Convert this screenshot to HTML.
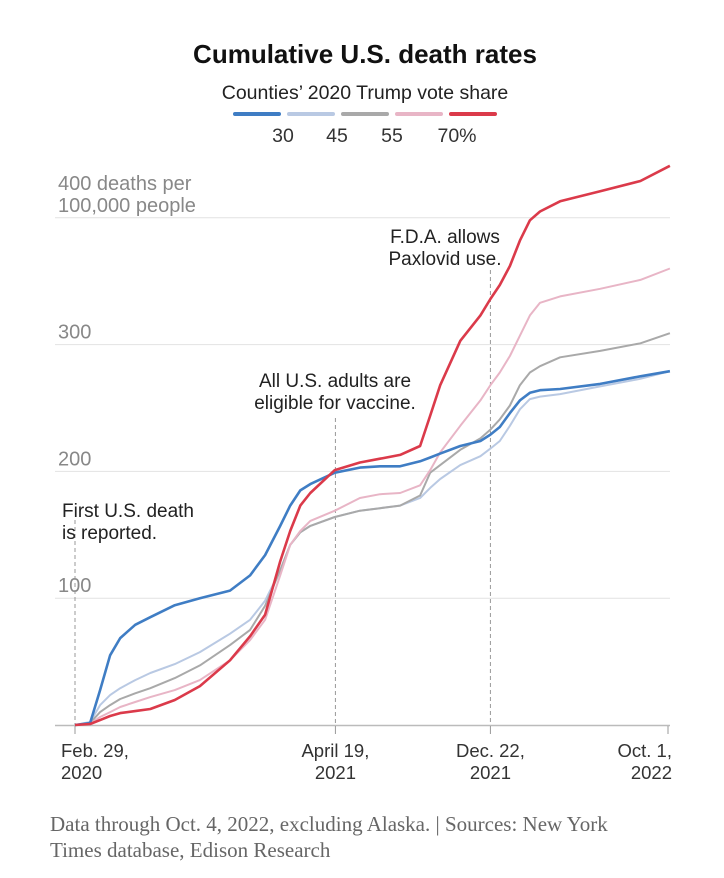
<!DOCTYPE html>
<html><head><meta charset="utf-8"><style>
body{margin:0;background:#fff;width:724px;height:878px;overflow:hidden;font-family:"Liberation Sans",sans-serif}
svg{display:block}
</style></head><body>
<svg id="c" width="724" height="878">
<text x="365" y="63" text-anchor="middle" font-size="26" font-weight="bold" fill="#111">Cumulative U.S. death rates</text>
<text x="365" y="99" text-anchor="middle" font-size="19.5" fill="#222">Counties’ 2020 Trump vote share</text>
<g id="legend"></g>
<g id="grid"></g>
<g id="ann"></g>
<g id="series"></g>
<text x="50" y="831" font-family="Liberation Serif,serif" font-size="21" fill="#666">Data through Oct. 4, 2022, excluding Alaska. | Sources: New York</text>
<text x="50" y="857" font-family="Liberation Serif,serif" font-size="21" fill="#666">Times database, Edison Research</text>
</svg>
<script>
const days=[0,24,40,56,72,96,120,159,199,247,279,303,327,343,359,375,414,454,486,518,550,566,582,614,646,662,677,693,709,725,741,773,837,901,948];
const s30=[0,1.6,27.5,55,68.5,79,85,94.5,100,106,118,134,157,173,185,190,199,203,204,204,208,211,214,220,224,229,235,246,256,262,264,265,269,275,279];
const s45=[0,2.4,15.7,23.6,29,35.4,41,48,57.5,72,83,98,122,142,152,157,164,169,171,173,179,187,194,205,212,218,224,236,249,257,259,261,267,273,279];
const s55=[0,1.6,10.2,15.7,20.5,25,29,37,47,63,75,94,122,142,152,157,164,169,171,173,181,199,205,217,226,233,241,252,268,278,283,290,295,301,309];
const s65=[0,0.8,6.3,10.2,14.2,18.1,22,27.5,35.4,51,67,83,118,142,153,161,169,179,182,183,189,201,215,236,256,268,278,291,307,323,333,338,344,351,360];
const s70=[0,0.8,3.9,7.1,9.4,11,12.6,19.7,30.7,51,70,87,129,153,173,183,201,207,210,213,220,244,268,303,323,336,347,362,382,398,405,413,421,429,441];
const yTicks=[100,200,300,400];
const xTickDays=[0,415,662,945];
const xTickLabels=[["Feb. 29,","2020"],["April 19,","2021"],["Dec. 22,","2021"],["Oct. 1,","2022"]];
const legendLabels=["30","45","55","70%"];
const X=d=>75+d*593/945, Y=v=>725-v*1.268;
const NS="http://www.w3.org/2000/svg";
function mk(tag,attrs,parent,txt){const e=document.createElementNS(NS,tag);for(const k in attrs)e.setAttribute(k,attrs[k]);if(txt!=null)e.textContent=txt;parent.appendChild(e);return e;}
const grid=document.getElementById('grid'),ann=document.getElementById('ann'),ser=document.getElementById('series'),leg=document.getElementById('legend');
yTicks.forEach(v=>{const l=mk('line',{x1:55,x2:670,y1:Y(v),y2:Y(v),stroke:'#e2e2e2','stroke-width':1},grid);


if(v<400){const t=mk('text',{x:58,y:Y(v)-6,'font-size':20,fill:'#888'},grid,String(v));

}
else{const t=mk('text',{x:58,y:Y(v)-28,'font-size':20,fill:'#888'},grid,'400 deaths per');


const t2=mk('text',{x:58,y:Y(v)-6,'font-size':20,fill:'#888'},grid,'100,000 people');

}});
const base=mk('line',{x1:55,x2:670,y1:725.5,y2:725.5,stroke:'#bbb','stroke-width':1.5},grid);


const dtop=[520,418,270];
xTickDays.forEach((d,i)=>{
 const tk=mk('line',{x1:X(d),x2:X(d),y1:726,y2:734,stroke:'#999'},grid);
 
 
 if(i<3){const dl=mk('line',{x1:X(d),x2:X(d),y1:dtop[i],y2:725,stroke:'#999','stroke-dasharray':'4 3'},ann);
 
 }
 const anchor=i==0?'start':(i==3?'end':'middle');const xx=i==0?X(d)-14:(i==3?X(d)+4:X(d));
 xTickLabels[i].forEach((s,j)=>{const t=mk('text',{x:xx,y:757+j*22,'font-size':18.5,fill:'#333','text-anchor':anchor},grid,s);
 
 });
});
[[62,517,'start',['First U.S. death','is reported.']],[335,387,'middle',['All U.S. adults are','eligible for vaccine.']],[445,243,'middle',['F.D.A. allows','Paxlovid use.']]].forEach(a=>{
 a[3].forEach((s,j)=>{const t=mk('text',{x:a[0],y:a[1]+j*22,'font-size':19,fill:'#222','text-anchor':a[2]},ann,s);
 
 });});
const cols=['#3f7dc4','#b9c9e3','#a9a9a9','#e8b5c6','#db3a4a'];
const all=[s30,s45,s55,s65,s70], order=[1,2,3,0,4];
order.forEach(k=>{const vals=all[k];const p=mk('path',{d:vals.map((v,i)=>(i?'L':'M')+X(days[i]).toFixed(1)+','+Y(v).toFixed(1)).join(''),fill:'none',stroke:cols[k],'stroke-width':k==0||k==4?2.6:2,'stroke-linejoin':'round'},ser);

});
cols.forEach((c,i)=>{const r=mk('line',{x1:235+i*54,x2:279+i*54,y1:114,y2:114,stroke:c,'stroke-width':4,'stroke-linecap':'round'},leg);

});
legendLabels.forEach((s,i)=>{const t=mk('text',{x:[283,337,392,457][i],y:142,'font-size':19.5,fill:'#333','text-anchor':'middle'},leg,s);

});
</script>
</body></html>
